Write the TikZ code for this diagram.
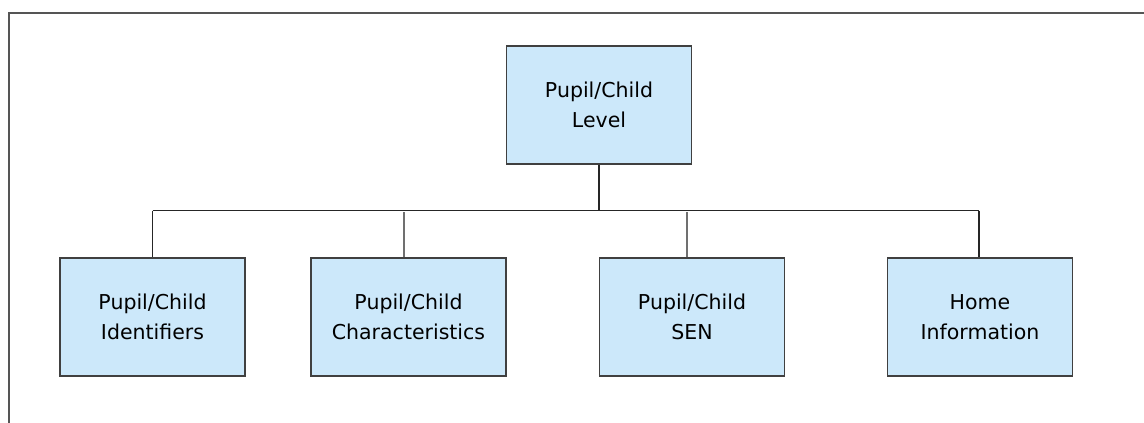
\documentclass[tikz,border=0pt]{standalone}
\usepackage{fontspec}
\setmainfont{DejaVu Sans}
\definecolor{boxfill}{HTML}{CCE8FA}
\definecolor{boxline}{HTML}{404040}
\definecolor{framecol}{HTML}{555555}
\definecolor{dropgray}{HTML}{707070}
\begin{document}
\begin{tikzpicture}[x=1pt,y=-1pt,
  box/.style={draw=boxline, fill=boxfill, line width=1.3pt, minimum width=185pt,
    minimum height=118pt, align=center, inner sep=0pt,
    font=\fontsize{20.5}{30}\selectfont},
  conn/.style={draw=black!85, line width=1.3pt},
  graydrop/.style={draw=dropgray, line width=1.3pt}]
\useasboundingbox (0,0) rectangle (1144,423);
\fill[white] (0,0) rectangle (1144,423);
\draw[framecol, line width=2pt] (8.5,423) -- (8.5,13) -- (1144,13);

\node[box] (top) at (599,105) {Pupil/Child\\Level};
\node[box] (b1) at (152.5,317) {Pupil/Child\\Identifiers};
\node[box, minimum width=195pt] (b2) at (408.5,317) {Pupil/Child\\Characteristics};
\node[box] (b3) at (692,317) {Pupil/Child\\SEN};
\node[box] (b4) at (980,317) {Home\\Information};

\coordinate (barL) at (152.5,210.5);
\coordinate (barR) at (979,210.5);
\draw[conn] (top.south) -- (top.south |- barL);
\draw[conn] (barL) -- (barR);
\draw[conn] (barL) -- (b1.north);
\draw[conn] (barR) -- (barR |- b4.north);
\draw[graydrop] ([xshift=-4.5pt]b2.north) -- ++(0,-45);
\draw[graydrop] ([xshift=-5pt]b3.north) -- ++(0,-45);
\end{tikzpicture}
\end{document}
